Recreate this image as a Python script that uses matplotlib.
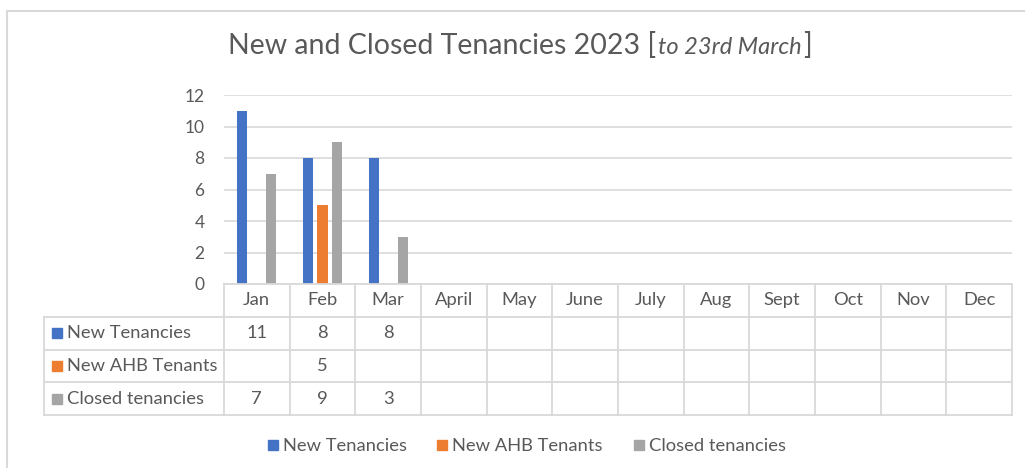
import matplotlib
matplotlib.use("Agg")
import matplotlib.pyplot as plt
from matplotlib.patches import Rectangle
from matplotlib.lines import Line2D

months = ["Jan", "Feb", "Mar", "April", "May", "June", "July", "Aug", "Sept", "Oct", "Nov", "Dec"]
series_names = ["New Tenancies", "New AHB Tenants", "Closed tenancies"]
new_tenancies = [11, 8, 8, None, None, None, None, None, None, None, None, None]
new_ahb = [None, 5, None, None, None, None, None, None, None, None, None, None]
closed = [7, 9, 3, None, None, None, None, None, None, None, None, None]
series_values = [new_tenancies, new_ahb, closed]
colors = ["#4472C4", "#ED7D31", "#A5A5A5"]
yticks = [0, 2, 4, 6, 8, 10, 12]

W, H = 1025, 468
FONT = "Lato"
TXT = "#595959"
GRID = "#D9D9D9"
FS = 13.2
plt.rcParams["font.family"] = [FONT, "DejaVu Sans"]

fig = plt.figure(figsize=(W / 100, H / 100), dpi=100)

def fx(px):
    return px / W

def fy(py):
    return 1 - py / H

# outer frame
fig.patches.append(Rectangle((fx(7), fy(480)), fx(1040) - fx(7), fy(11) - fy(480),
                             transform=fig.transFigure, fill=False, edgecolor=GRID, lw=1.5))

left_px, right_px, top_px, base_px = 224, 1012, 95, 284
ax = fig.add_axes([fx(left_px), fy(base_px), fx(right_px - left_px), fy(top_px) - fy(base_px)])
n = len(months)
ax.set_xlim(-0.5, n - 0.5)
ax.set_ylim(0, 12)
for s in ax.spines.values():
    s.set_visible(False)
ax.set_xticks([])
ax.set_yticks(yticks)
ax.tick_params(axis="y", length=0, pad=14, labelsize=12.5, labelcolor=TXT)
for t in ax.get_yticklabels():
    t.set_fontfamily(FONT)
ax.yaxis.grid(True, color=GRID, lw=1.2)
ax.set_axisbelow(True)

step, bw = 0.22, 0.155
for j, (vals, c) in enumerate(zip(series_values, colors)):
    xs = [i + (j - 1) * step for i, v in enumerate(vals) if v is not None]
    hs = [v for v in vals if v is not None]
    ax.bar(xs, hs, width=bw, color=c, zorder=3)

# data table
tab_left_px, tab_bottom_px = 44, 415
colw = (right_px - left_px) / n
xl = -0.5 - (left_px - tab_left_px) / colw
tax = fig.add_axes([fx(tab_left_px), fy(tab_bottom_px), fx(right_px - tab_left_px),
                    fy(base_px) - fy(tab_bottom_px)])
tax.set_xlim(xl, n - 0.5)
tax.set_ylim(4, 0)
tax.axis("off")
lk = dict(color=GRID, lw=1.3, clip_on=False)
tax.plot([-0.5, n - 0.5], [0, 0], **lk)
for r in (1, 2, 3, 4):
    tax.plot([xl, n - 0.5], [r, r], **lk)
tax.plot([xl, xl], [1, 4], **lk)
for c in range(n + 1):
    tax.plot([c - 0.5, c - 0.5], [0, 4], **lk)
for i, m in enumerate(months):
    tax.text(i, 0.5, m, ha="center", va="center", fontsize=FS, color=TXT)
for r, (name, vals, c) in enumerate(zip(series_names, series_values, colors), start=1):
    tax.plot([xl + 13 / colw], [r + 0.5], marker="s", ms=7, color=c, ls="none", clip_on=False)
    tax.text(xl + 23 / colw, r + 0.5, name, ha="left", va="center", fontsize=FS, color=TXT)
    for i, v in enumerate(vals):
        if v is not None:
            tax.text(i, r + 0.5, str(v), ha="center", va="center", fontsize=FS, color=TXT)

# legend
handles = [Line2D([], [], marker="s", ls="none", color=c, ms=7) for c in colors]
fig.legend(handles, series_names, loc="center", bbox_to_anchor=(fx(526), fy(446)), ncol=3,
           frameon=False, fontsize=FS, labelcolor=TXT, handlelength=0.7, handletextpad=0.2,
           columnspacing=1.6)

# title
fig.canvas.draw()
r = fig.canvas.get_renderer()
parts = [("New and Closed Tenancies 2023 [", "normal", 20.5),
         ("to 23rd March", "italic", 17),
         ("]", "normal", 20.5)]
texts = []
for s, st, sz in parts:
    t = fig.text(0, fy(54), s, fontsize=sz, style=st, color=TXT, ha="left", va="baseline")
    texts.append(t)
widths = [t.get_window_extent(r).width for t in texts]
total = sum(widths) + 4
x = 520 - total / 2
for k, (t, w) in enumerate(zip(texts, widths)):
    t.set_x(fx(x))
    x += w + (2 if k < 2 else 0)

fig.savefig("out.png", dpi=100)
